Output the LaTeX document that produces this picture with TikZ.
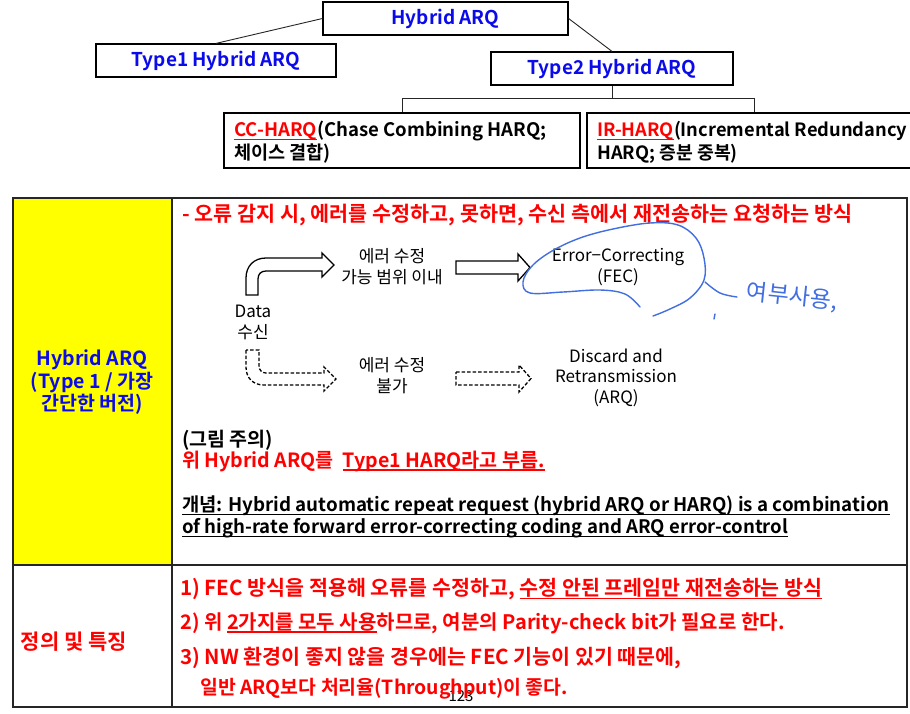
\documentclass[tikz,border=0pt]{standalone}
\usepackage{fontspec}
\setmainfont{Noto Sans CJK KR}[BoldFont={Noto Sans CJK KR Bold}]
\definecolor{hred}{RGB}{255,0,0}
\definecolor{hblue}{RGB}{10,10,235}
\definecolor{penblue}{RGB}{65,110,225}
\definecolor{cellyellow}{RGB}{255,255,0}
\newcommand\myul[1]{\setbox0\hbox{#1}\rlap{\rule[-3.5pt]{\wd0}{1.2pt}}\box0}
\newcommand\fs[1]{\fontsize{#1}{23}\selectfont}
\begin{document}
\begin{tikzpicture}[x=1pt,y=-1pt,
  treebox/.style={draw=black, line width=1.2pt, inner sep=0},
  treetxt/.style={font=\fontsize{19}{23}\selectfont\bfseries, text=hblue},
  body/.style={font=\bfseries, inner sep=0, anchor=west, align=left},
  diag/.style={font=\fontsize{17}{21}\selectfont, inner sep=0, align=center},
  blockarrow/.style={draw=black, line width=1.3pt, fill=white, line join=miter},
  dasharrow/.style={blockarrow, dash pattern=on 3.5pt off 2pt},
  link/.style={draw=black!85, line width=0.9pt},
  pen/.style={draw=penblue, line width=1.4pt, line cap=round, line join=round}]
\useasboundingbox (0,0) rectangle (910,713);
\fill[white] (0,0) rectangle (910,713);

% ---------- tree ----------
\node[treebox, treetxt, minimum width=245, minimum height=33] (hyb) at (445.5,18.5) {Hybrid ARQ};
\node[treebox, treetxt, minimum width=240, minimum height=33] (t1) at (216,60.5) {Type1 Hybrid ARQ};
\node[treebox, treetxt, minimum width=242, minimum height=33] (t2) at (612,68.5) {Type2 Hybrid ARQ};
\node[treebox, minimum width=356, minimum height=55] (cc) at (402,140.5) {};
\node[treebox, minimum width=343, minimum height=55] (ir) at (758.5,140.5) {};
\coordinate (bus) at (612,98);
\coordinate (busL) at (402,98);
\coordinate (busR) at (754,98);
\draw[link] (hyb.west) -- (t1.north);
\draw[link] (hyb.east) -- (t2.north);
\draw[link] (t2.south) -- (bus);
\draw[link] (busL) -- (busR);
\draw[link] (busL) -- (cc.north);
\draw[link] (busR) -- (busR |- ir.north);
\node[body, font=\fs{18.6}\bfseries] (cctxt) at (234,142.5) {\textcolor{hred}{\myul{CC-HARQ}}(Chase Combining HARQ;\\체이스 결합)};
\node[body, font=\fs{18.3}\bfseries] (irtxt) at (597,142.5) {\textcolor{hred}{\myul{IR-HARQ}}(Incremental Redundancy\\HARQ; 증분 중복)};

% ---------- table ----------
\fill[cellyellow] (13,198) rectangle (172,565);
\draw[line width=1.3pt, draw=black!85] (13,198) rectangle (907,707);
\draw[line width=1.3pt, draw=black!85] (172,198) -- (172,707);
\draw[line width=1.3pt, draw=black!85] (13,565) -- (907,565);

\node[font=\fontsize{19.5}{22.5}\selectfont\bfseries, text=hblue, align=center, inner sep=0] (cellA) at (92,382.5)
  {Hybrid ARQ\\(Type 1 / 가장\\간단한 버전)};
\node[font=\fontsize{21}{22}\selectfont\bfseries, text=hred, inner sep=0] (cellB) at (74,642) {정의 및 특징};

\node[body, font=\fs{20.7}\bfseries, text=hred] (head) at (182,215) {- 오류 감지 시, 에러를 수정하고, 못하면, 수신 측에서 재전송하는 요청하는 방식};

% ---------- block arrows ----------
\draw[blockarrow] (246,295) -- (246,278) .. controls (246,266) and (254,258) .. (266,258)
  -- (322,258) -- (322,253) -- (334,265) -- (322,277) -- (322,271) -- (266,271)
  .. controls (261,271) and (258,274) .. (258,279) -- (258,295) -- cycle;
\draw[blockarrow] (456,261) -- (518,261) -- (518,254) -- (530,267.5) -- (518,281) -- (518,274) -- (456,274) -- cycle;
\draw[dasharrow] (246,350) -- (246,367) .. controls (246,378) and (253,385) .. (264,385)
  -- (324,385) -- (324,391) -- (336,379) -- (324,367) -- (324,373) -- (266,373)
  .. controls (262,373) and (259,370) .. (259,366) -- (259,350) -- cycle;
\draw[dasharrow] (456,372) -- (519,372) -- (519,365) -- (531,378.5) -- (519,392) -- (519,385) -- (456,385) -- cycle;

\node[diag] (ok) at (392,267) {에러 수정\\가능 범위 이내};
\node[diag] (data) at (253,322) {Data\\수신};
\node[diag] (fec) at (618,267) {Error−Correcting\\(FEC)};
\node[diag] (no) at (392,376) {에러 수정\\불가};
\node[diag, font=\fontsize{17}{20.5}\selectfont] (arq) at (616,377.5) {Discard and\\Retransmission\\(ARQ)};

% ---------- handwriting ----------
\draw[pen] plot[smooth, tension=0.6] coordinates {(640,307) (625,294) (600,290) (563,292) (530,293) (523,282) (532,266) (552,251) (580,238) (613,229) (650,223) (678,225) (696,238) (704,258) (704,280) (690,298) (670,309) (653,316)};
\draw[pen] plot[smooth, tension=0.6] coordinates {(705,282) (720,293) (737,297)};
\draw[pen] (715,314) -- (714,319);
\node[text=penblue, font=\fontsize{23}{24}\selectfont, rotate=-6, inner sep=0] (hand) at (792,297) {여부사용,};

% ---------- notes ----------
\node[body, font=\fs{19.5}\bfseries] (n1) at (182,440) {(그림 주의)};
\node[body, font=\fs{19.6}\bfseries, text=hred] (n2) at (182,461) {위 Hybrid ARQ를~~\myul{Type1 HARQ라고 부름.}};
\node[body, font=\fs{18.75}\bfseries] (n3) at (182,506) {\myul{개념: Hybrid automatic repeat request (hybrid ARQ or HARQ) is a combination}};
\node[body, font=\fs{18.6}\bfseries] (n4) at (182,528) {\myul{of high-rate forward error-correcting coding and ARQ error-control}};

\node[font=\fontsize{15}{15}\selectfont, inner sep=0] (pg) at (461,696) {123};
\node[body, font=\fs{20.6}\bfseries, text=hred] (b1) at (180,589) {1) FEC 방식을 적용해 오류를 수정하고, \myul{수정 안된 프레임만 재전송하는 방식}};
\node[body, font=\fs{20}\bfseries, text=hred] (b2) at (180,623) {2) 위 \myul{2가지를 모두 사용}하므로, 여분의 Parity-check bit가 필요로 한다.};
\node[body, font=\fs{20.6}\bfseries, text=hred] (b3) at (180,658) {3) NW 환경이 좋지 않을 경우에는 FEC 기능이 있기 때문에,};
\node[body, font=\fs{19.4}\bfseries, text=hred] (b4) at (200,689) {일반 ARQ보다 처리율(Throughput)이 좋다.};
\end{tikzpicture}
\end{document}
